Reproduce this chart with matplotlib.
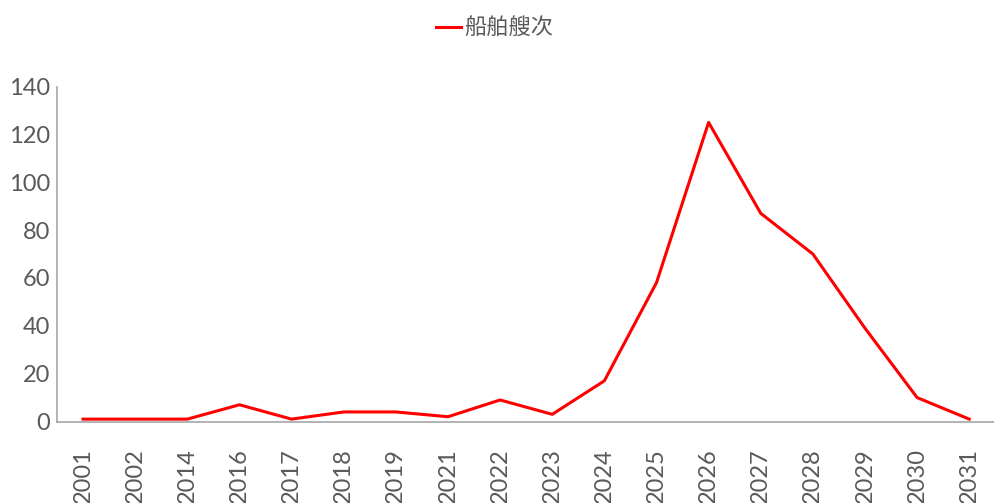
import matplotlib
matplotlib.use("Agg")
import matplotlib.pyplot as plt

years = ["2001", "2002", "2014", "2016", "2017", "2018", "2019", "2021", "2022",
         "2023", "2024", "2025", "2026", "2027", "2028", "2029", "2030", "2031"]
ships = [1, 1, 1, 7, 1, 4, 4, 2, 9, 3, 17, 58, 125, 87, 70, 39, 10, 1]
yticks = [0, 20, 40, 60, 80, 100, 120, 140]

plt.rcParams['font.family'] = ['Lato', 'Noto Sans CJK SC', 'DejaVu Sans']

fig = plt.figure(figsize=(9.95, 5.03), dpi=100)
ax = fig.add_axes([0.0573, 0.162, 0.943, 0.666])

x = list(range(len(years)))
line, = ax.plot(x, ships, color="#FF0000", linewidth=2.2, label="船舶艘次")

ax.set_xlim(-0.5, len(years) - 0.5)
ax.set_ylim(0, 140)
ax.set_yticks(yticks)
ax.set_xticks(x)
ax.set_xticklabels(years, rotation=90)

for s in ["top", "right"]:
    ax.spines[s].set_visible(False)
for s in ["left", "bottom"]:
    ax.spines[s].set_color("#A6A6A6")
    ax.spines[s].set_linewidth(1.2)

ax.tick_params(axis="both", length=0, labelsize=17, labelcolor="#595959")
ax.tick_params(axis="y", pad=5)
ax.tick_params(axis="x", pad=19)

leg = fig.legend(handles=[line], loc="center", bbox_to_anchor=(0.497, 0.944),
                 frameon=False, handlelength=1.1, handletextpad=0.15,
                 prop={'family': ['Noto Sans CJK SC', 'DejaVu Sans'], 'size': 16})
for t in leg.get_texts():
    t.set_color("#595959")

fig.savefig("out.png", dpi=100)
